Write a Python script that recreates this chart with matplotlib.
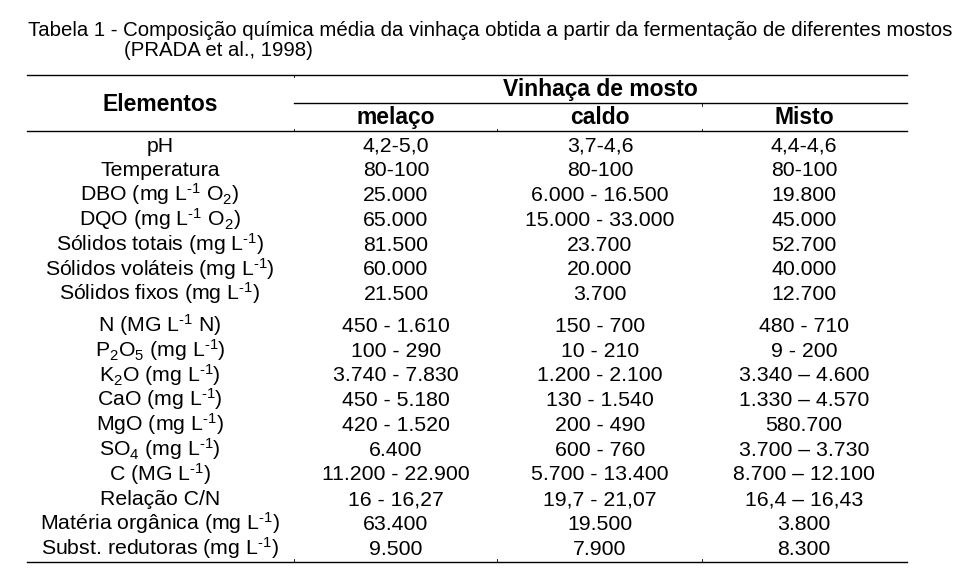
import matplotlib
matplotlib.use("Agg")
import matplotlib.pyplot as plt

plt.rcParams['font.family'] = ['Liberation Sans', 'DejaVu Sans']
plt.rcParams['mathtext.fontset'] = 'custom'
plt.rcParams['mathtext.rm'] = 'Liberation Sans'
plt.rcParams['mathtext.it'] = 'Liberation Sans:italic'
plt.rcParams['mathtext.bf'] = 'Liberation Sans:bold'
plt.rcParams['mathtext.default'] = 'regular'

# Dados da tabela
titulo1 = "Tabela 1 - Composição química média da vinhaça obtida a partir da fermentação de diferentes mostos"
titulo2 = "(PRADA et al., 1998)"
cab_elementos = "Elementos"
cab_grupo = "Vinhaça de mosto"
colunas = ["melaço", "caldo", "Misto"]

L1 = r"$L^{\text{-}1}$"
elementos = [
    "pH",
    "Temperatura",
    "DBO (mg " + L1 + " $O_2$)",
    "DQO (mg " + L1 + " $O_2$)",
    "Sólidos totais (mg " + L1 + ")",
    "Sólidos voláteis (mg " + L1 + ")",
    "Sólidos fixos (mg " + L1 + ")",
    "N (MG " + L1 + " N)",
    "$P_2O_5$ (mg " + L1 + ")",
    "$K_2O$ (mg " + L1 + ")",
    "CaO (mg " + L1 + ")",
    "MgO (mg " + L1 + ")",
    "$SO_4$ (mg " + L1 + ")",
    "C (MG " + L1 + ")",
    "Relação C/N",
    "Matéria orgânica (mg " + L1 + ")",
    "Subst. redutoras (mg " + L1 + ")",
]
melaco = ["4,2-5,0", "80-100", "25.000", "65.000", "81.500", "60.000", "21.500",
          "450 - 1.610", "100 - 290", "3.740 - 7.830", "450 - 5.180", "420 - 1.520",
          "6.400", "11.200 - 22.900", "16 - 16,27", "63.400", "9.500"]
caldo = ["3,7-4,6", "80-100", "6.000 - 16.500", "15.000 - 33.000", "23.700", "20.000", "3.700",
         "150 - 700", "10 - 210", "1.200 - 2.100", "130 - 1.540", "200 - 490",
         "600 - 760", "5.700 - 13.400", "19,7 - 21,07", "19.500", "7.900"]
misto = ["4,4-4,6", "80-100", "19.800", "45.000", "52.700", "40.000", "12.700",
         "480 - 710", "9 - 200", "3.340 – 4.600", "1.330 – 4.570", "580.700",
         "3.700 – 3.730", "8.700 – 12.100", "16,4 – 16,43", "3.800", "8.300"]

W, H = 967, 586
fig = plt.figure(figsize=(W / 100, H / 100), dpi=100)
ax = fig.add_axes([0, 0, 1, 1])
ax.set_xlim(0, W)
ax.set_ylim(H, 0)
ax.axis('off')

# layout (pixels)
x_esq, x_dir = 27, 907
bordas = [x_esq, 294, 497, 702, x_dir]
centros = [160, 396, 600, 804]
fs = 15.3
fs_cab = 16.5
y0, dy, salto = 151.7, 24.75, 7.0

ax.text(28, 36, titulo1, fontsize=14.65, va='baseline', ha='left')
ax.text(124, 56, titulo2, fontsize=14.65, va='baseline', ha='left')

lw = 1.0
ax.plot([x_esq, x_dir], [74.5, 74.5], color='black', lw=lw)
ax.plot([bordas[1], x_dir], [103, 103], color='black', lw=lw)
ax.plot([x_esq, x_dir], [131, 131], color='black', lw=lw)
ax.plot([x_esq, x_dir], [561.5, 561.5], color='black', lw=lw)
# pequenas marcas nas divisões das colunas
ax.plot([bordas[1]] * 2, [74.5, 77], color='black', lw=0.6)
ax.plot([bordas[3]] * 2, [103, 105.5], color='black', lw=0.6)
for xb in bordas[1:4]:
    ax.plot([xb, xb], [128.5, 131], color='black', lw=0.6)
    ax.plot([xb, xb], [559, 561.5], color='black', lw=0.6)

ax.text(centros[0], 110.7, cab_elementos, fontsize=fs_cab, fontweight='bold', ha='center', va='baseline')
ax.text(centros[2], 95.7, cab_grupo, fontsize=fs_cab, fontweight='bold', ha='center', va='baseline')
for c, nome in zip(centros[1:], colunas):
    ax.text(c, 124.3, nome, fontsize=fs_cab, fontweight='bold', ha='center', va='baseline')

for i, (el, a, b, c) in enumerate(zip(elementos, melaco, caldo, misto)):
    y = y0 + i * dy + (salto if i >= 7 else 0)
    for xc, txt in zip(centros, [el, a, b, c]):
        ax.text(xc, y, txt, fontsize=fs, ha='center', va='baseline')

fig.savefig("out.png", dpi=100, facecolor='white')
